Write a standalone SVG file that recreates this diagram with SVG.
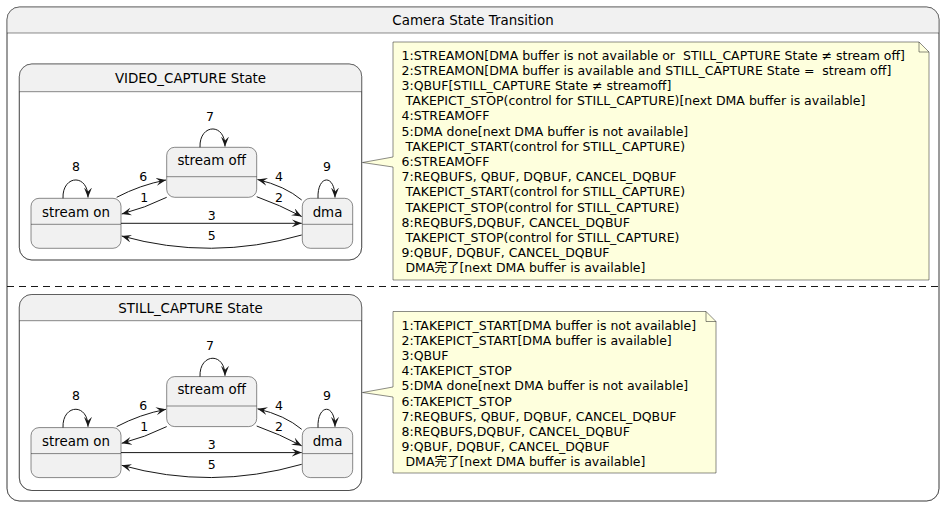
<svg xmlns="http://www.w3.org/2000/svg" width="945" height="507" viewBox="0 0 945 507">
<style>
.box{fill:#FFFFFF;stroke:#181818;stroke-width:.5}
.hdr{fill:#F1F1F1;stroke:none}
.sep{stroke:#181818;stroke-width:.5;fill:none}
.st{fill:#F1F1F1;stroke:#181818;stroke-width:.5}
.note{fill:#FEFFDD;stroke:#181818;stroke-width:.5}
.edge{fill:none;stroke:#181818;stroke-width:1}
.ttl{font-family:"DejaVu Sans","Noto Sans CJK JP",sans-serif;font-size:13.4px;fill:#000;text-anchor:middle}
.lbl{font-family:"DejaVu Sans","Noto Sans CJK JP",sans-serif;font-size:12.5px;fill:#000;text-anchor:middle}
.nt{font-family:"DejaVu Sans","Noto Sans CJK JP",sans-serif;font-size:12.5px;fill:#000;white-space:pre}
</style>
<defs>
<marker id="ah" viewBox="0 0 10 8" refX="10" refY="4" markerWidth="10" markerHeight="8" orient="auto" markerUnits="userSpaceOnUse">
<path d="M0,0 L10,4 L0,8 L4,4 Z" fill="#181818"/>
</marker>
<g id="sm">
<g id="s_streamoff">
<rect class="st" x="166.7" y="147.3" width="90" height="50" rx="8"/>
<line class="sep" x1="166.7" y1="176.7" x2="256.7" y2="176.7"/>
<text class="ttl" x="211.7" y="164.8">stream off</text>
</g>
<g id="s_streamon">
<rect class="st" x="31" y="198.3" width="90" height="50" rx="8"/>
<line class="sep" x1="31" y1="224.3" x2="121" y2="224.3"/>
<text class="ttl" x="76" y="216.5">stream on</text>
</g>
<g id="s_dma">
<rect class="st" x="302.3" y="198.3" width="50.4" height="50" rx="8"/>
<line class="sep" x1="302.3" y1="224.3" x2="352.7" y2="224.3"/>
<text class="ttl" x="327.5" y="216.5">dma</text>
</g>
<g id="edges">
<path class="edge" marker-end="url(#ah)" d="M200,147.3 C199,124 225,122 225,146.5"/>
<path class="edge" marker-end="url(#ah)" d="M63,198.3 C62,175 88,173 88,197.5"/>
<path class="edge" marker-end="url(#ah)" d="M318,198.3 C317,175 335,173 335,197.5"/>
<path class="edge" marker-end="url(#ah)" d="M116.7,197.3 Q140,185 166,180"/>
<path class="edge" marker-end="url(#ah)" d="M166.7,197.3 Q145,208 121.7,214"/>
<path class="edge" marker-end="url(#ah)" d="M256.7,196.7 Q280,205 301.7,216.5"/>
<path class="edge" marker-end="url(#ah)" d="M301.7,200 Q285,186 257.5,179.5"/>
<path class="edge" marker-end="url(#ah)" d="M121,223.3 L301.7,223.3"/>
<path class="edge" marker-end="url(#ah)" d="M301.7,235 Q211,261 121.7,236"/>
<text class="lbl" x="210" y="121">7</text>
<text class="lbl" x="76" y="171">8</text>
<text class="lbl" x="327" y="171">9</text>
<text class="lbl" x="143.3" y="180.5">6</text>
<text class="lbl" x="144.3" y="202">1</text>
<text class="lbl" x="279" y="201.5">2</text>
<text class="lbl" x="279" y="181">4</text>
<text class="lbl" x="211.7" y="219.5">3</text>
<text class="lbl" x="211.7" y="240">5</text>
</g>
</g>
</defs>

<g id="camera">
<rect class="box" x="7" y="7" width="932" height="494" rx="12.5"/>
<path class="hdr" d="M7.25,33 L7.25,19.5 A12.25,12.25 0 0 1 19.5,7.25 L926.5,7.25 A12.25,12.25 0 0 1 938.75,19.5 L938.75,33 Z"/>
<rect x="7" y="7" width="932" height="494" rx="12.5" fill="none" stroke="#181818" stroke-width=".5"/>
<line class="sep" x1="7" y1="33" x2="939" y2="33"/>
<text class="ttl" x="473" y="24.8">Camera State Transition</text>
<line x1="7" y1="286.5" x2="939" y2="286.5" stroke="#181818" stroke-width="1" stroke-dasharray="7,5"/>
</g>

<g id="video">
<rect class="box" x="19.3" y="64" width="342.4" height="196" rx="12.5"/>
<path class="hdr" d="M19.55,91.7 L19.55,76.5 A12.25,12.25 0 0 1 31.8,64.25 L349.2,64.25 A12.25,12.25 0 0 1 361.45,76.5 L361.45,91.7 Z"/>
<rect x="19.3" y="64" width="342.4" height="196" rx="12.5" fill="none" stroke="#181818" stroke-width=".5"/>
<line class="sep" x1="19.3" y1="91.7" x2="361.7" y2="91.7"/>
<text class="ttl" x="190.5" y="83">VIDEO_CAPTURE State</text>
<use href="#sm"/>
</g>

<g id="still">
<rect class="box" x="19.3" y="294.5" width="342.4" height="196" rx="12.5"/>
<path class="hdr" d="M19.55,320.7 L19.55,307 A12.25,12.25 0 0 1 31.8,294.75 L349.2,294.75 A12.25,12.25 0 0 1 361.45,307 L361.45,320.7 Z"/>
<rect x="19.3" y="294.5" width="342.4" height="196" rx="12.5" fill="none" stroke="#181818" stroke-width=".5"/>
<line class="sep" x1="19.3" y1="320.7" x2="361.7" y2="320.7"/>
<text class="ttl" x="190.5" y="312.5">STILL_CAPTURE State</text>
<use href="#sm" transform="translate(0,229.3)"/>
</g>

<g id="note_video">
<path class="note" d="M393,42 L919,42 L929,52 L929,280 L393,280 L393,167 L362.5,162.5 L393,157 Z"/>
<path class="sep" d="M919,42 L919,52 L929,52"/>
<text class="nt" x="401.5" y="59.5">1:STREAMON[DMA buffer is not available or  STILL_CAPTURE State ≠ stream off]</text>
<text class="nt" x="401.5" y="74.7">2:STREAMON[DMA buffer is available and STILL_CAPTURE State =  stream off]</text>
<text class="nt" x="401.5" y="89.9">3:QBUF[STILL_CAPTURE State ≠ streamoff]</text>
<text class="nt" x="401.5" y="105.1"> TAKEPICT_STOP(control for STILL_CAPTURE)[next DMA buffer is available]</text>
<text class="nt" x="401.5" y="120.3">4:STREAMOFF</text>
<text class="nt" x="401.5" y="135.5">5:DMA done[next DMA buffer is not available]</text>
<text class="nt" x="401.5" y="150.7"> TAKEPICT_START(control for STILL_CAPTURE)</text>
<text class="nt" x="401.5" y="165.9">6:STREAMOFF</text>
<text class="nt" x="401.5" y="181.1">7:REQBUFS, QBUF, DQBUF, CANCEL_DQBUF</text>
<text class="nt" x="401.5" y="196.3"> TAKEPICT_START(control for STILL_CAPTURE)</text>
<text class="nt" x="401.5" y="211.5"> TAKEPICT_STOP(control for STILL_CAPTURE)</text>
<text class="nt" x="401.5" y="226.7">8:REQBUFS,DQBUF, CANCEL_DQBUF</text>
<text class="nt" x="401.5" y="241.9"> TAKEPICT_STOP(control for STILL_CAPTURE)</text>
<text class="nt" x="401.5" y="257.1">9:QBUF, DQBUF, CANCEL_DQBUF</text>
<text class="nt" x="401.5" y="272.3"> DMA完了[next DMA buffer is available]</text>
</g>

<g id="note_still">
<path class="note" d="M393,311.5 L706,311.5 L716,321.5 L716,473 L393,473 L393,397 L362.5,392.5 L393,387 Z"/>
<path class="sep" d="M706,311.5 L706,321.5 L716,321.5"/>
<text class="nt" x="401.5" y="329.5">1:TAKEPICT_START[DMA buffer is not available]</text>
<text class="nt" x="401.5" y="344.7">2:TAKEPICT_START[DMA buffer is available]</text>
<text class="nt" x="401.5" y="359.9">3:QBUF</text>
<text class="nt" x="401.5" y="375.1">4:TAKEPICT_STOP</text>
<text class="nt" x="401.5" y="390.3">5:DMA done[next DMA buffer is not available]</text>
<text class="nt" x="401.5" y="405.5">6:TAKEPICT_STOP</text>
<text class="nt" x="401.5" y="420.7">7:REQBUFS, QBUF, DQBUF, CANCEL_DQBUF</text>
<text class="nt" x="401.5" y="435.9">8:REQBUFS,DQBUF, CANCEL_DQBUF</text>
<text class="nt" x="401.5" y="451.1">9:QBUF, DQBUF, CANCEL_DQBUF</text>
<text class="nt" x="401.5" y="466.3"> DMA完了[next DMA buffer is available]</text>
</g>
</svg>
